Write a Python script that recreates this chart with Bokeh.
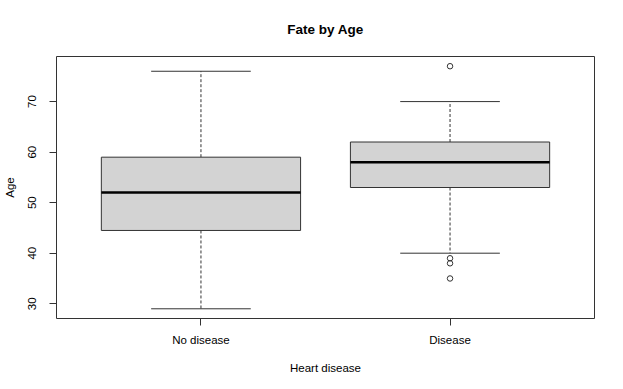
from bokeh.plotting import figure
from bokeh.models import Range1d, FixedTicker, ColumnDataSource
from bokeh.embed import file_html
from bokeh.resources import INLINE

categories = ["No disease", "Disease"]
positions = [1, 2]
q1 = [44.5, 53]
median = [52, 58]
q3 = [59, 62]
lower = [29, 40]
upper = [76, 70]
outlier_pos = [2, 2, 2, 2]
outlier_val = [77, 39, 38, 35]
y_ticks = [30, 40, 50, 60, 70]

FONT = "Liberation Sans"
DARK = "#333333"

p = figure(frame_width=538, frame_height=262, width=623, height=389,
           min_border_left=56, min_border_right=29, min_border_top=56, min_border_bottom=71,
           x_range=Range1d(0.42, 2.58), y_range=Range1d(27.08, 78.92),
           output_backend="svg", toolbar_location=None, title="Fate by Age")

p.title.align = "center"
p.title.text_font = FONT
p.title.text_font_size = "13.5px"
p.title.text_font_style = "bold"
p.title.text_color = "black"
p.title.standoff = 39

p.xgrid.visible = False
p.ygrid.visible = False
p.background_fill_color = "white"
p.border_fill_color = "white"
p.outline_line_color = DARK
p.outline_line_width = 1

src = ColumnDataSource(dict(
    x=positions, q1=q1, med=median, q3=q3, lo=lower, hi=upper,
    cl=[v - 0.2 for v in positions], cr=[v + 0.2 for v in positions],
    bl=[v - 0.4 for v in positions], br=[v + 0.4 for v in positions],
))

# whiskers
p.segment(x0="x", y0="q3", x1="x", y1="hi", source=src, line_color=DARK, line_dash="3 2", line_width=1)
p.segment(x0="x", y0="q1", x1="x", y1="lo", source=src, line_color=DARK, line_dash="3 2", line_width=1)
# caps
p.segment(x0="cl", y0="hi", x1="cr", y1="hi", source=src, line_color=DARK, line_width=1)
p.segment(x0="cl", y0="lo", x1="cr", y1="lo", source=src, line_color=DARK, line_width=1)
# boxes
p.quad(left="bl", right="br", bottom="q1", top="q3", source=src,
       fill_color="#D3D3D3", line_color=DARK, line_width=1)
# medians
p.segment(x0="bl", y0="med", x1="br", y1="med", source=src, line_color="black", line_width=2.5)
# outliers
p.scatter(x=outlier_pos, y=outlier_val, marker="circle", size=5.5,
          fill_color=None, line_color=DARK, line_width=1)

for ax in (p.xaxis[0], p.yaxis[0]):
    ax.axis_line_color = None
    ax.major_tick_line_color = DARK
    ax.major_tick_out = 7
    ax.major_tick_in = 0
    ax.minor_tick_line_color = None
    ax.major_label_text_font = FONT
    ax.major_label_text_font_size = "11.5px"
    ax.major_label_text_color = "black"
    ax.axis_label_text_font = FONT
    ax.axis_label_text_font_size = "11.5px"
    ax.axis_label_text_font_style = "normal"
    ax.axis_label_text_color = "black"

p.xaxis.ticker = FixedTicker(ticks=positions)
p.xaxis.major_label_overrides = {pos: name for pos, name in zip(positions, categories)}
p.xaxis.axis_label = "Heart disease"
p.xaxis.major_label_standoff = 8
p.xaxis.axis_label_standoff = 13

p.yaxis.ticker = FixedTicker(ticks=y_ticks)
p.yaxis.axis_label = "Age"
p.yaxis.major_label_orientation = "vertical"
p.yaxis.major_label_standoff = 13
p.yaxis.axis_label_standoff = 10

open("out.html", "w").write(file_html(p, INLINE))
